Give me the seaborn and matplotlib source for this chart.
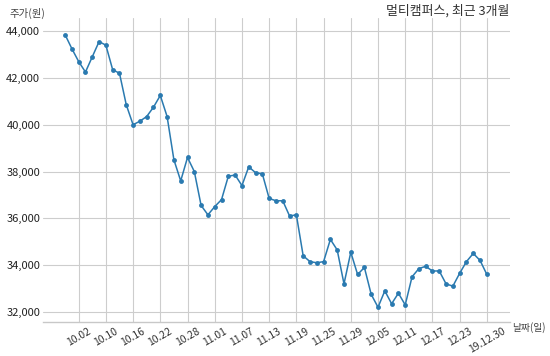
import matplotlib
matplotlib.use("Agg")
import matplotlib.pyplot as plt
import seaborn as sns
import pandas as pd

dates = ["09.30", "10.01", "10.02", "10.04", "10.07", "10.08", "10.10", "10.11", "10.14", "10.15",
         "10.16", "10.17", "10.18", "10.21", "10.22", "10.23", "10.24", "10.25", "10.28", "10.29",
         "10.30", "10.31", "11.01", "11.04", "11.05", "11.06", "11.07", "11.08", "11.11", "11.12",
         "11.13", "11.14", "11.15", "11.18", "11.19", "11.20", "11.21", "11.22", "11.25", "11.26",
         "11.27", "11.28", "11.29", "12.02", "12.03", "12.04", "12.05", "12.06", "12.09", "12.10",
         "12.11", "12.12", "12.13", "12.16", "12.17", "12.18", "12.19", "12.20", "12.23", "12.24",
         "12.26", "12.27", "19.12.30"]
prices = [43850, 43250, 42700, 42250, 42900, 43550, 43400, 42350, 42200, 40850,
          40000, 40150, 40350, 40750, 41250, 40350, 38500, 37600, 38600, 38000,
          36550, 36150, 36500, 36800, 37800, 37850, 37400, 38200, 37950, 37900,
          36850, 36750, 36750, 36100, 36150, 34400, 34150, 34100, 34150, 35100,
          34650, 33200, 34550, 33600, 33900, 32750, 32200, 32900, 32350, 32800,
          32300, 33500, 33850, 33950, 33750, 33750, 33200, 33100, 33650, 34150,
          34500, 34200, 33600]
yticks = [32000, 34000, 36000, 38000, 40000, 42000, 44000]

df = pd.DataFrame({"idx": range(len(prices)), "price": prices})

sns.set_theme(style="white")
plt.rcParams["font.family"] = ["Noto Sans CJK KR", "DejaVu Sans"]

fig = plt.figure(figsize=(5.5, 3.56), dpi=100)
ax = fig.add_axes([43/550, 1-322/356, (510-43)/550, (322-18)/356])

sns.lineplot(data=df, x="idx", y="price", ax=ax, color="#2a7ab0", linewidth=1.1,
             marker="o", markersize=3.5, markeredgewidth=0)

ax.set_xlim(-3.24, 65.4)
ax.set_ylim(31570, 44560)

tick_pos = list(range(2, len(dates), 4))
ax.set_xticks(tick_pos)
ax.set_xticklabels([dates[i] for i in tick_pos], rotation=30, ha="center", fontsize=7.5, color="#333333")
ax.set_yticks(yticks)
ax.set_yticklabels([f"{v:,}" for v in yticks], fontsize=8, color="#222222")
ax.tick_params(axis="both", length=0, pad=2)
ax.tick_params(axis="x", pad=3)

ax.grid(True, color="#cdcdcd", linewidth=0.8)
ax.set_axisbelow(True)
for s in ["left", "right", "top"]:
    ax.spines[s].set_visible(False)
ax.spines["bottom"].set_color("#c8c8c8")
ax.spines["bottom"].set_linewidth(1.0)

ax.set_xlabel("")
ax.set_ylabel("")

fig.text(10/550, 1-13/356, "주가(원)", fontsize=7.5, color="#444444", va="center", ha="left")
fig.text(512/550, 1-328/356, "날짜(일)", fontsize=7, color="#444444", va="center", ha="left")
fig.text(509/550, 1-11/356, "멀티캠퍼스, 최근 3개월", fontsize=9.3, color="#333333", va="center", ha="right")

fig.savefig("out.png", dpi=100)
